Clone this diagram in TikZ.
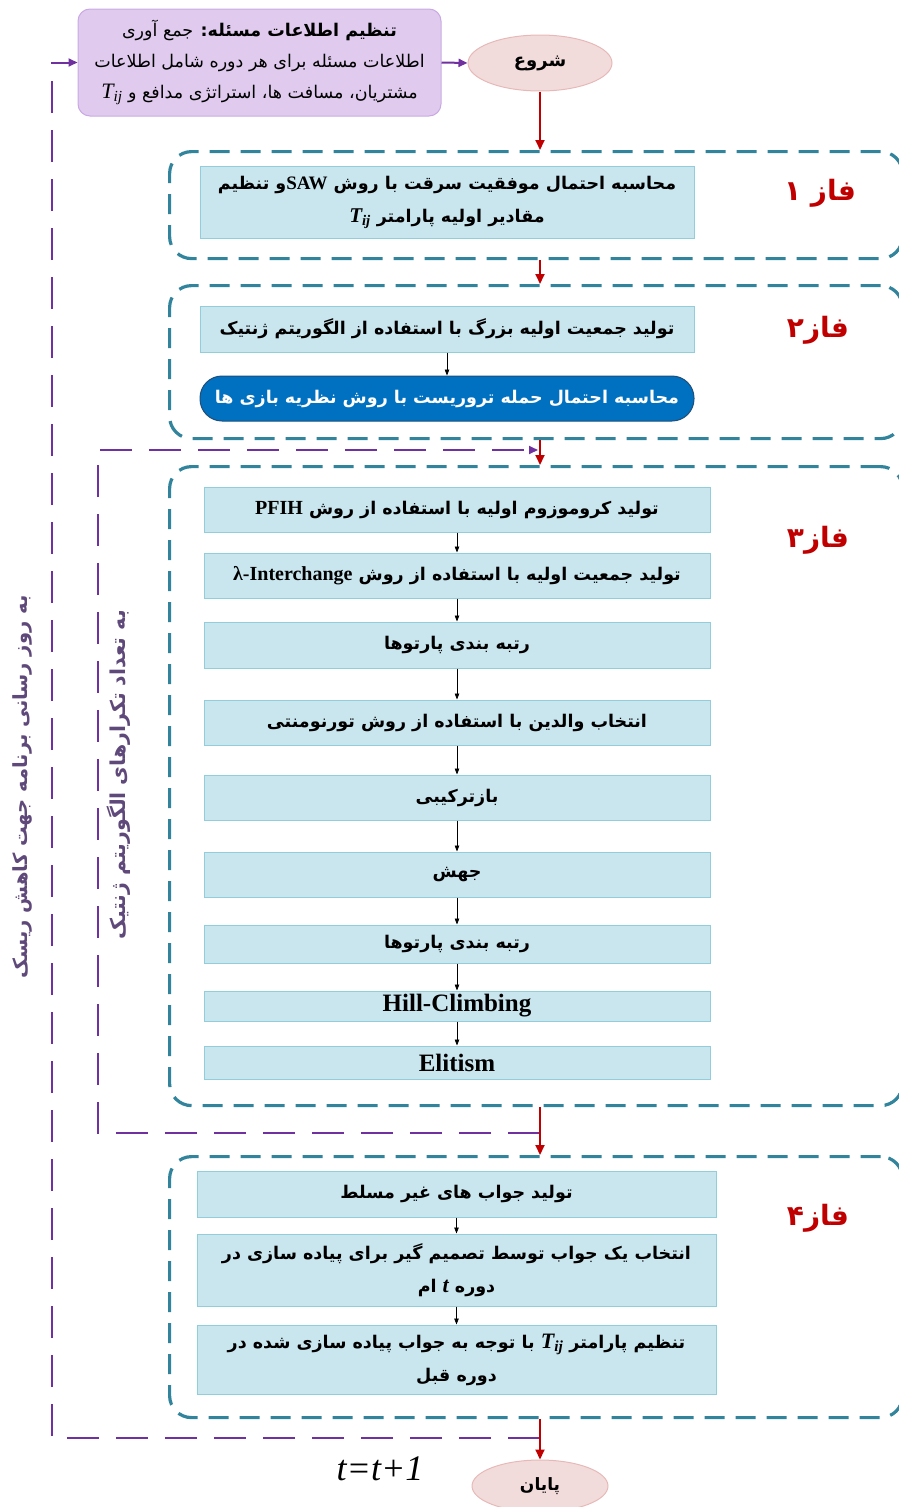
\documentclass[tikz,border=0pt]{standalone}
\usepackage{fontspec}
\setmainfont{Liberation Serif}
\newfontfamily\fa[Script=Arabic]{DejaVu Sans}
\usetikzlibrary{arrows.meta,shapes.geometric}
\TeXXeTstate=1
\definecolor{teal1}{HTML}{31849B}
\definecolor{boxfill}{HTML}{C9E6EF}
\definecolor{boxline}{HTML}{92CDDC}
\definecolor{purp}{HTML}{7030A0}
\definecolor{pfill}{HTML}{E0CBEE}
\definecolor{pline}{HTML}{C9A9E4}
\definecolor{redc}{HTML}{C00000}
\definecolor{efill}{HTML}{F2DCDB}
\definecolor{eline}{HTML}{E6B9B8}
\definecolor{bluefill}{HTML}{0070C0}
\definecolor{blueline}{HTML}{1F4E79}
\definecolor{sidetext}{HTML}{5F497A}
\newcommand{\rtl}[1]{\beginR#1\endR}
\newcommand{\ltr}[1]{\beginL#1\endL}
\tikzset{
  stepbox/.style={draw=boxline, fill=boxfill, line width=1pt, inner sep=2pt, align=center,
    font=\fa\bfseries\fontsize{17.5}{33}\selectfont},
  phasebox/.style={draw=teal1, line width=3.2pt, dash pattern=on 20pt off 11pt, rounded corners=22pt},
  redarrow/.style={draw=redc, line width=1.8pt, -{Triangle[width=9pt,length=10pt]}},
  blackarrow/.style={draw=black, line width=0.7pt, -{Triangle[width=4.5pt,length=6pt]}},
  purpline/.style={draw=purp, line width=2pt, dash pattern=on 32pt off 17pt},
  purparrow/.style={purpline, -{Triangle[width=8pt,length=9pt]}},
  phaselabel/.style={text=redc, font=\fa\bfseries\fontsize{28}{30}\selectfont},
  sidelabel/.style={text=sidetext, rotate=90, font=\fa\bfseries\fontsize{20}{22}\selectfont},
  oval/.style={ellipse, draw=eline, fill=efill, line width=1pt, inner sep=0pt},
  latinbig/.style={font=\rmfamily\bfseries\fontsize{25}{28}\selectfont}
}
\begin{document}
\begin{tikzpicture}[x=1pt,y=-1pt]
\useasboundingbox (0,0) rectangle (899,1507);
\clip (0,0) rectangle (899,1507);

% phase containers
\node[phasebox, anchor=north west, minimum width=733pt, minimum height=107pt] (ph1) at (168,150) {};
\node[phasebox, anchor=north west, minimum width=733pt, minimum height=153pt] (ph2) at (168,284) {};
\node[phasebox, anchor=north west, minimum width=733pt, minimum height=639pt] (ph3) at (168,465) {};
\node[phasebox, anchor=north west, minimum width=733pt, minimum height=261pt] (ph4) at (168,1155) {};

% top
\node[draw=pline, fill=pfill, line width=1pt, rounded corners=12pt, minimum width=363pt, minimum height=107pt,
  align=center, font=\fa\fontsize{17.5}{31}\selectfont] (info) at (259.5,62.5)
  {\rtl{{\bfseries تنظیم اطلاعات مسئله:} جمع آوری}\\
   \rtl{اطلاعات مسئله برای هر دوره شامل اطلاعات}\\
   \rtl{مشتریان، مسافت ها، استراتژی مدافع و \ltr{{\rmfamily\itshape\fontsize{22}{22}\selectfont T\textsubscript{ij}}}}};
\node[oval, minimum width=144pt, minimum height=56pt, font=\fa\bfseries\fontsize{18}{20}\selectfont] (start) at (540,63) {\rtl{شروع}};

% phase 1
\node[stepbox, minimum width=494pt, minimum height=72pt] (s1) at (447,202)
  {\rtl{محاسبه احتمال موفقیت سرقت با روش \ltr{{\rmfamily\fontsize{19}{20}\selectfont SAW}}و تنظیم}\\
   \rtl{مقادیر اولیه پارامتر \ltr{{\rmfamily\bfseries\itshape\fontsize{21}{20}\selectfont T\textsubscript{ij}}}}};
\node[phaselabel] (l1) at (820,193) {\rtl{فاز ۱}};

% phase 2
\node[stepbox, minimum width=494pt, minimum height=46pt] (s2) at (447,329)
  {\rtl{تولید جمعیت اولیه بزرگ با استفاده از الگوریتم ژنتیک}};
\node[stepbox, draw=blueline, fill=bluefill, text=white, rounded corners=22pt, minimum width=494pt, minimum height=45pt] (s3) at (447,398.5)
  {\rtl{محاسبه احتمال حمله تروریست با روش نظریه بازی ها}};
\node[phaselabel] (l2) at (818,330) {\rtl{فاز۲}};

% phase 3
\node[stepbox, minimum width=506pt, minimum height=45pt] (g1) at (457,509.5)
  {\rtl{تولید کروموزوم اولیه با استفاده از روش \ltr{{\rmfamily\fontsize{20}{20}\selectfont PFIH}}}};
\node[stepbox, minimum width=506pt, minimum height=45pt] (g2) at (457,575.5)
  {\rtl{تولید جمعیت اولیه با استفاده از روش \ltr{{\rmfamily\fontsize{20}{20}\selectfont λ-Interchange}}}};
\node[stepbox, minimum width=506pt, minimum height=46pt] (g3) at (457,645) {\rtl{رتبه بندی پارتوها}};
\node[stepbox, minimum width=506pt, minimum height=45pt] (g4) at (457,722.5) {\rtl{انتخاب والدین با استفاده از روش تورنومنتی}};
\node[stepbox, minimum width=506pt, minimum height=45pt] (g5) at (457,797.5) {\rtl{بازترکیبی}};
\node[stepbox, minimum width=506pt, minimum height=45pt] (g6) at (457,874.5) {\rtl{جهش}};
\node[stepbox, minimum width=506pt, minimum height=38pt] (g7) at (457,944) {\rtl{رتبه بندی پارتوها}};
\node[stepbox, latinbig, minimum width=506pt, minimum height=30pt] (g8) at (457,1006) {Hill-Climbing};
\node[stepbox, latinbig, minimum width=506pt, minimum height=33pt] (g9) at (457,1062.5) {Elitism};
\node[phaselabel] (l3) at (818,540) {\rtl{فاز۳}};

% phase 4
\node[stepbox, minimum width=519pt, minimum height=46pt] (f1) at (456.5,1194) {\rtl{تولید جواب های غیر مسلط}};
\node[stepbox, minimum width=519pt, minimum height=72pt] (f2) at (456.5,1270)
  {\rtl{انتخاب یک جواب توسط تصمیم گیر برای پیاده سازی در}\\
   \rtl{دوره \ltr{{\rmfamily\bfseries\itshape\fontsize{22}{20}\selectfont t}} ام}};
\node[stepbox, minimum width=519pt, minimum height=69pt] (f3) at (456.5,1359.5)
  {\rtl{تنظیم پارامتر \ltr{{\rmfamily\bfseries\itshape\fontsize{22}{20}\selectfont T\textsubscript{ij}}} با توجه به جواب پیاده سازی شده در}\\
   \rtl{دوره قبل}};
\node[phaselabel] (l4) at (818,1218) {\rtl{فاز۴}};

% end
\node[oval, minimum width=136pt, minimum height=52pt, font=\fa\bfseries\fontsize{17}{20}\selectfont] (end) at (540,1486) {\rtl{پایان}};
\node[font=\rmfamily\itshape\fontsize{36}{38}\selectfont] (tt) at (380,1469) {t=t+1};

% side labels
\node[sidelabel, font=\fa\bfseries\fontsize{19.5}{22}\selectfont] (side1) at (22,787) {\rtl{به روز رسانی برنامه جهت کاهش ریسک}};
\node[sidelabel, font=\fa\bfseries\fontsize{20.5}{22}\selectfont] (side2) at (119,775) {\rtl{به تعداد تکرارهای الگوریتم ژنتیک}};

% purple loops
\coordinate (ob) at (540,1438);
\coordinate (ol) at (52,1438);
\coordinate (ib) at (540,1133);
\coordinate (il) at (98,1133);
\coordinate (it) at (98,450);
\coordinate (ie) at (538,450);
\draw[purparrow] (ob) -- (ol) |- (info.west);
\draw[purparrow] (ib) -- (il) -- (it) -- (ie);
\draw[purparrow, dash pattern=] (info.east) -- (start.west);

% red arrows
\draw[redarrow] (start.south) -- (start.south |- ph1.north);
\draw[redarrow] (start.south |- ph1.south) -- (start.south |- ph2.north);
\draw[redarrow] (start.south |- ph2.south) -- (start.south |- ph3.north);
\draw[redarrow] (start.south |- ph3.south) -- (start.south |- ph4.north);
\draw[redarrow] (start.south |- ph4.south) -- (end.north);

% black arrows
\draw[blackarrow] (s2) -- (s3);
\draw[blackarrow] (g1) -- (g2);
\draw[blackarrow] (g2) -- (g3);
\draw[blackarrow] (g3) -- (g4);
\draw[blackarrow] (g4) -- (g5);
\draw[blackarrow] (g5) -- (g6);
\draw[blackarrow] (g6) -- (g7);
\draw[blackarrow] (g7) -- (g8);
\draw[blackarrow] (g8) -- (g9);
\draw[blackarrow] (f1) -- (f2);
\draw[blackarrow] (f2) -- (f3);
\end{tikzpicture}
\end{document}
